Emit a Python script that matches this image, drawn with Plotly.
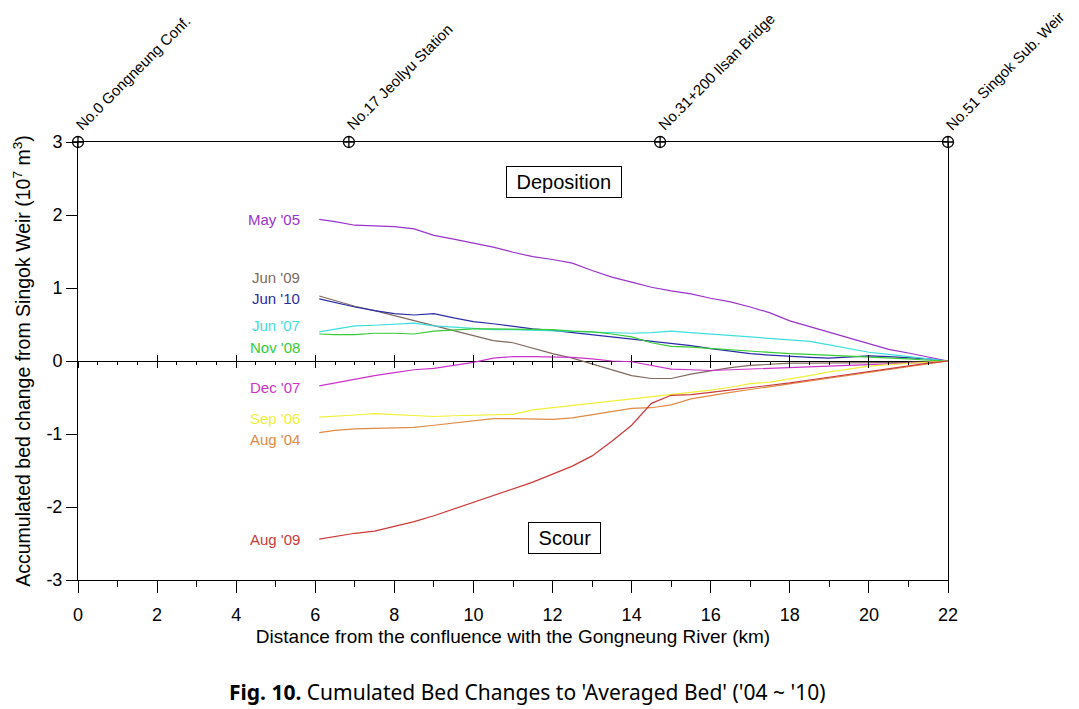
import plotly.graph_objects as go

# distance from the Gongneung confluence (km) at which every survey is read
distance_km = [6.1, 6.5, 7.0, 7.5, 8.0, 8.5, 9.0, 9.5, 10.0, 10.5, 11.0, 11.5, 12.0, 12.5, 13.0,
               13.5, 14.0, 14.5, 15.0, 15.5, 16.0, 16.5, 17.0, 17.5, 18.0, 18.5, 19.0, 19.5,
               20.0, 20.5, 21.0, 21.5, 22.0]

# accumulated bed change from Singok Weir (10^7 m^3)
may_05 = [1.94, 1.91, 1.86, 1.85, 1.84, 1.81, 1.72, 1.67, 1.62, 1.56, 1.49, 1.43, 1.39, 1.34, 1.24,
          1.15, 1.08, 1.01, 0.96, 0.92, 0.86, 0.81, 0.74, 0.66, 0.55, 0.47, 0.40, 0.32,
          0.23, 0.16, 0.11, 0.05, 0.0]
jun_09 = [0.89, 0.83, 0.75, 0.69, 0.62, 0.55, 0.48, 0.41, 0.35, 0.28, 0.25, 0.17, 0.10, 0.04, -0.04,
          -0.13, -0.20, -0.24, -0.24, -0.18, -0.13, -0.09, -0.06, -0.04, -0.03, -0.03, -0.03, -0.03,
          -0.03, -0.02, -0.02, -0.01, 0.0]
jun_10 = [0.85, 0.80, 0.74, 0.69, 0.65, 0.63, 0.65, 0.59, 0.54, 0.51, 0.47, 0.44, 0.42, 0.39, 0.36,
          0.33, 0.31, 0.28, 0.25, 0.21, 0.17, 0.13, 0.10, 0.08, 0.06, 0.05, 0.04, 0.05,
          0.07, 0.06, 0.05, 0.03, 0.0]
jun_07 = [0.40, 0.44, 0.48, 0.49, 0.50, 0.52, 0.48, 0.46, 0.44, 0.43, 0.43, 0.42, 0.41, 0.40, 0.39,
          0.38, 0.38, 0.39, 0.41, 0.39, 0.37, 0.35, 0.33, 0.30, 0.28, 0.27, 0.22, 0.17,
          0.12, 0.09, 0.06, 0.03, 0.0]
nov_08 = [0.37, 0.36, 0.36, 0.38, 0.38, 0.37, 0.41, 0.43, 0.44, 0.44, 0.44, 0.43, 0.43, 0.41, 0.40,
          0.37, 0.33, 0.25, 0.20, 0.19, 0.17, 0.15, 0.13, 0.12, 0.10, 0.09, 0.08, 0.07,
          0.06, 0.04, 0.03, 0.01, 0.0]
dec_07 = [-0.34, -0.30, -0.24, -0.20, -0.16, -0.12, -0.10, -0.06, -0.02, 0.04, 0.06, 0.06, 0.06, 0.05, 0.03,
          0.00, -0.01, -0.06, -0.11, -0.12, -0.13, -0.12, -0.11, -0.10, -0.10, -0.09, -0.08, -0.07,
          -0.06, -0.05, -0.03, -0.02, 0.0]
sep_06 = [-0.77, -0.76, -0.74, -0.72, -0.73, -0.74, -0.76, -0.75, -0.74, -0.74, -0.73, -0.67, -0.64, -0.62, -0.59,
          -0.55, -0.52, -0.49, -0.46, -0.43, -0.40, -0.36, -0.31, -0.29, -0.25, -0.20, -0.15, -0.11,
          -0.07, -0.05, -0.03, -0.01, 0.0]
aug_04 = [-0.98, -0.95, -0.93, -0.92, -0.91, -0.91, -0.88, -0.85, -0.81, -0.79, -0.79, -0.79, -0.80, -0.78, -0.74,
          -0.69, -0.65, -0.64, -0.60, -0.52, -0.47, -0.43, -0.39, -0.35, -0.31, -0.27, -0.23, -0.19,
          -0.15, -0.11, -0.07, -0.03, 0.0]
aug_09 = [-2.44, -2.40, -2.36, -2.33, -2.27, -2.20, -2.12, -2.03, -1.94, -1.85, -1.75, -1.66, -1.55, -1.44, -1.30,
          -1.10, -0.88, -0.58, -0.47, -0.46, -0.43, -0.40, -0.37, -0.34, -0.30, -0.26, -0.22, -0.18,
          -0.14, -0.10, -0.07, -0.03, 0.0]

series_names = ["May '05", "Jun '09", "Jun '10", "Jun '07", "Nov '08",
                "Dec '07", "Sep '06", "Aug '04", "Aug '09"]
series_values = [may_05, jun_09, jun_10, jun_07, nov_08, dec_07, sep_06, aug_04, aug_09]

# landmark cross sections along the top edge
station_km = [0.0, 6.85, 14.72, 22.0]
station_names = ["No.0 Gongneung Conf.", "No.17 Jeollyu Station",
                 "No.31+200 Ilsan Bridge", "No.51 Singok Sub. Weir"]

y_ticks = [-3, -2, -1, 0, 1, 2, 3]
y_tick_text = ['-3', '-2', '-1', '0', '1', '2', '3']

# styling
colors = ['#9933cc', '#80695e', '#2a2ca6', '#3fdede', '#35cc35',
          '#cc33cc', '#f0f03a', '#e08a45', '#cc3a3a']
label_y = [1.94, 1.14, 0.86, 0.49, 0.19, -0.36, -0.79, -1.07, -2.45]
FONT = 'Arial, Liberation Sans, Helvetica, sans-serif'

fig = go.Figure()
for name, vals, col, ly in zip(series_names, series_values, colors, label_y):
    fig.add_trace(go.Scatter(x=distance_km, y=vals, name=name, mode='lines',
                             line=dict(color=col, width=1.2), showlegend=False))
    fig.add_annotation(x=5.6, y=ly, text=name, showarrow=False, xanchor='right',
                       xshift=3, font=dict(size=15, color=col, family=FONT))

# stations on the top edge
fig.add_trace(go.Scatter(x=station_km, y=[3] * len(station_km), mode='markers', cliponaxis=False,
                         marker=dict(symbol='circle-cross-open', size=11, color='black',
                                     line=dict(width=1.3)),
                         showlegend=False))
for km, nm in zip(station_km, station_names):
    fig.add_annotation(x=km, y=3, text=nm, showarrow=False, textangle=-45,
                       xanchor='left', yanchor='bottom', xshift=-8, yshift=6,
                       font=dict(size=15, color='black', family=FONT))

# tick helpers for the zero line (ticks crossing both sides)
for ax in ('x2', 'x3'):
    fig.add_trace(go.Scatter(x=[None], y=[None], xaxis=ax, yaxis='y', showlegend=False,
                             hoverinfo='skip'))

for txt, bx, by in (('Deposition', 12.3, 2.45), ('Scour', 12.3, -2.42)):
    fig.add_annotation(x=bx, y=by, text='&nbsp;' + txt + '&nbsp;', showarrow=False, bgcolor='white',
                       bordercolor='black', borderwidth=1, borderpad=4,
                       font=dict(size=20, color='black', family=FONT))

fig.add_annotation(x=0.5, xref='paper', y=-0.256, yref='paper', yanchor='middle', xshift=14,
                   showarrow=False,
                   text="<b>Fig. 10.</b> Cumulated Bed Changes to 'Averaged Bed' ('04 ~ '10)",
                   font=dict(size=21, color='black', family='Liberation Sans Narrow, Noto Sans, sans-serif'))

zero_axis = dict(overlaying='x', anchor='free', position=0.5, range=[0, 22], showline=False,
                 showgrid=False, zeroline=False, showticklabels=False, dtick=2, tick0=0,
                 ticklen=6, tickcolor='black', tickwidth=1,
                 minor=dict(dtick=0.5, tick0=0, ticklen=3, tickcolor='black', tickwidth=1))

fig.update_layout(
    width=1079, height=709,
    margin=dict(l=70, r=139, t=134, b=137),
    paper_bgcolor='white', plot_bgcolor='white',
    font=dict(family=FONT, color='black'),
    xaxis=dict(range=[0, 22], dtick=2, tick0=0, showgrid=False, zeroline=False,
               showline=True, linecolor='black', linewidth=1, mirror=True,
               ticks='outside', ticklen=12, tickcolor='black', ticklabelstandoff=6,
               minor=dict(dtick=1, tick0=0, ticks='outside', ticklen=6, tickcolor='black'),
               tickfont=dict(size=18), title=dict(
                   text='Distance from the confluence with the Gongneung River (km)',
                   font=dict(size=19), standoff=6)),
    xaxis2=dict(zero_axis, ticks='outside'),
    xaxis3=dict(zero_axis, ticks='inside'),
    yaxis=dict(range=[-3, 3], tickvals=y_ticks, ticktext=y_tick_text, showgrid=False,
               zeroline=True, zerolinecolor='black', zerolinewidth=1,
               showline=True, linecolor='black', linewidth=1, mirror=True,
               ticks='outside', ticklen=11, tickcolor='black', tickfont=dict(size=18),
               title=dict(text='Accumulated bed change from Singok Weir (10<sup>7</sup> m<sup>3</sup>)',
                          font=dict(size=19.5), standoff=10)),
)

fig.write_html("out.html")
